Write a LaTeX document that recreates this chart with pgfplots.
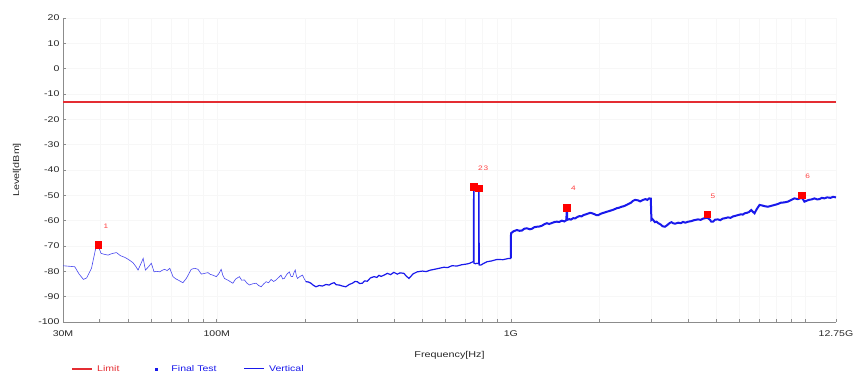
\documentclass[border=0pt]{standalone}
\usepackage{pgfplots}
\pgfplotsset{compat=1.18}
\usepackage{fontspec}
\setmainfont[FakeStretch=1.27]{Liberation Sans}
\definecolor{limitred}{RGB}{228,45,50}
\definecolor{tracebl}{RGB}{25,25,235}
\definecolor{axgray}{RGB}{140,140,140}
\begin{document}
\begin{tikzpicture}
\begin{axis}[
  at={(63pt,52pt)}, anchor=south west,
  scale only axis, width=773pt, height=304pt,
  xmode=log, xmin=30, xmax=12750,
  ymin=-100, ymax=20,
  axis x line*=bottom, axis y line*=left,
  axis line style={axgray, line width=0.9pt, -},
  tick style={axgray, line width=0.6pt},
  tick align=inside,
  major tick length=3pt, minor tick length=3pt,
  xtick={30,100,1000,12750},
  xticklabels={30M,100M,1G,12.75G},
  minor xtick={40,50,60,70,80,90,200,300,400,500,600,700,800,900,2000,3000,4000,5000,6000,7000,8000,9000,10000},
  ytick={-100,-90,-80,-70,-60,-50,-40,-30,-20,-10,0,10,20},
  yticklabels={-100,-90,-80,-70,-60,-50,-40,-30,-20,-10,0,10,20},
  ticklabel style={font=\fontsize{8.3}{9}\selectfont, text=black!85},
  xticklabel style={yshift=-5pt},
  ymajorgrids, xminorgrids, xmajorgrids,
  major grid style={black!3, line width=0.5pt},
  minor grid style={black!3, line width=0.5pt},
  xlabel={Frequency[Hz]}, ylabel={Level[dBm]},
  label style={font=\fontsize{8.5}{10}\selectfont, text=black!85},
  xlabel style={at={(axis description cs:0.5,-0.1086)}, anchor=center},
  ylabel style={at={(axis description cs:-0.0595,0.5)}, anchor=center},
  legend columns=3,
  legend style={draw=none, fill=none, at={(axis description cs:0.0078,-0.1546)}, anchor=west,
    font=\fontsize{8.3}{9}\selectfont,
    /tikz/every even column/.append style={column sep=25pt}},
]
\addlegendimage{legend image code/.code={\path[draw=none] (0pt,0pt) -- (23pt,0pt); \fill[limitred, draw=none] (0pt,-0.8pt) rectangle (20pt,0.8pt);}}
\addlegendentry[text=limitred]{Limit}
\addlegendimage{legend image code/.code={\path[draw=none] (0pt,0pt) -- (23pt,0pt); \fill[tracebl, draw=none] (8.5pt,-1.6pt) rectangle (11.5pt,1.4pt);}}
\addlegendentry[text=tracebl]{Final Test}
\addlegendimage{legend image code/.code={\path[draw=none] (0pt,0pt) -- (23pt,0pt); \draw[color=tracebl, line width=1pt] (0pt,0pt) -- (20pt,0pt);}}
\addlegendentry[text=tracebl]{Vertical}

% limit line (-13 dBm), drawn as a thin band
\addplot[fill=limitred, draw=none, forget plot] coordinates {(30,-12.6) (12750,-12.6) (12750,-13.4) (30,-13.4)} -- cycle;

% trace segment 30M - 200M
\addplot[tracebl!80, line width=0.6pt, forget plot] coordinates {
(30,-77.8) (31.5,-78.0) (32.9,-78.2) (34.0,-81.0) (35.2,-83.2) (36.1,-82.6) (37.5,-78.8)
(38.7,-71.3) (39.3,-69.2) (40.4,-72.9) (41.5,-73.3) (42.7,-73.6) (44.0,-73.0) (45.6,-72.6)
(47.0,-73.8) (48.7,-74.5) (50.2,-75.4) (51.9,-76.6) (53.0,-78.0) (54.0,-79.5) (55.2,-77.0)
(56.2,-74.9) (57.2,-79.5) (58.6,-78.2) (59.9,-76.8) (61.2,-80.2) (62.5,-80.0) (64.0,-80.2)
(65.2,-79.6) (66.5,-79.2) (67.8,-79.7) (69.2,-78.8) (71.0,-82.1) (72.4,-82.9) (73.8,-83.4)
(76.7,-84.5) (78.8,-82.8) (81.9,-79.2) (84.1,-78.8) (86.3,-79.2) (88.6,-81.1) (91.0,-80.8)
(93.3,-80.5) (95.0,-81.2) (97.0,-81.5) (99.6,-82.1) (101.5,-81.0) (103.5,-79.2) (104.8,-81.5)
(106.2,-82.8) (109.5,-83.6) (113.4,-84.7) (116.0,-83.0) (119.4,-82.1) (121.5,-83.5) (124.2,-83.4)
(126.5,-84.6) (129.2,-85.4) (132.5,-84.9) (136.1,-84.7) (138.8,-85.6) (141.5,-86.1) (144.3,-85.0)
(147.1,-84.1) (150.0,-84.5) (153.0,-83.2) (156.0,-84.0) (159.1,-83.4) (162.0,-82.5) (165.4,-81.5)
(167.5,-83.0) (169.7,-82.8) (173.0,-81.2) (176.5,-80.2) (178.8,-82.0) (181.1,-82.1) (183.0,-80.5)
(184.9,-79.5) (186.5,-81.8) (188.2,-82.8) (192.0,-82.0) (195.7,-81.5) (198.5,-83.0) (201.0,-84.1)
};
% trace segment 200M - 1G
\addplot[tracebl, line width=1.2pt, forget plot] coordinates {
(201.0,-84.1) (205,-84.2) (209.0,-84.7) (213,-85.5) (217.3,-86.1) (223,-85.6) (228.8,-85.8)
(235,-85.2) (241.1,-85.4) (246,-84.8) (250.7,-84.5) (255,-85.3) (260.7,-85.4) (267,-85.8)
(274.7,-86.1) (282,-85.2) (289.2,-84.7) (295,-84.0) (300.7,-84.1) (306,-84.8) (312.7,-84.7)
(318,-83.8) (325.2,-83.9) (333,-82.6) (342.7,-82.1) (350,-82.4) (356,-81.6) (362,-82.0)
(370.5,-81.5) (380,-80.8) (390,-81.3) (400,-80.4) (411.0,-81.1) (420,-80.6) (433.0,-80.8)
(440,-81.8) (450.3,-82.8) (465,-81.0) (480.3,-80.2) (500,-79.9) (515,-80.1) (533.5,-79.5)
(550,-79.2) (570,-78.8) (591.6,-78.4) (610,-78.5) (630,-77.8) (656.4,-77.9) (680,-77.4)
(709.6,-77.1) (725,-76.8) (743.8,-76.2) (746.3,-76.2) (747.0,-46.6) (748.8,-46.6) (749.5,-76.8)
(758,-77.0) (767,-76.8) (777.0,-77.0) (777.8,-47.2) (779.5,-47.2) (780.3,-77.5) (791,-77.5)
(810,-76.8) (829.5,-76.2) (860,-75.9) (896.8,-75.3) (940,-75.4) (982.7,-74.9) (999,-74.9)
};
% trace segment 1G - 12.75G
\addplot[tracebl, line width=2pt, forget plot] coordinates {
(999,-74.9) (1001,-65.0) (1020,-64.2) (1048,-63.7) (1070,-64.0) (1090,-63.9) (1110,-63.2)
(1133,-63.0) (1160,-63.4) (1180,-63.2) (1200,-62.6) (1226,-62.4) (1250,-62.3) (1275,-62.0)
(1300,-61.4) (1325,-61.0) (1350,-61.3) (1380,-60.9) (1410,-60.5) (1433,-60.4) (1460,-60.5)
(1490,-60.0) (1520,-60.3) (1545,-59.8) (1547,-55.0) (1551,-55.0) (1553,-59.7) (1580,-59.4)
(1600,-59.6) (1630,-59.0) (1654,-59.1) (1680,-58.6) (1710,-58.2) (1740,-58.3) (1765,-57.8)
(1800,-57.5) (1830,-57.2) (1860,-56.9) (1890,-57.1) (1920,-57.4) (1950,-57.8) (1984,-57.8)
(2020,-57.3) (2050,-57.0) (2080,-56.8) (2117,-56.5) (2160,-56.2) (2200,-55.9) (2240,-55.6)
(2288,-55.1) (2330,-54.9) (2380,-54.5) (2420,-54.3) (2474,-53.8) (2520,-53.3) (2560,-52.9)
(2600,-52.2) (2642,-51.8) (2680,-51.9) (2710,-52.0) (2750,-52.4) (2781,-52.1) (2830,-51.7)
(2870,-51.5) (2910,-51.8) (2954,-51.2) (2990,-51.3) (3005,-59.7) (3030,-59.4) (3060,-60.0)
(3090,-60.6) (3126,-60.4) (3170,-61.0) (3230,-61.5) (3280,-62.2) (3339,-62.4) (3380,-62.0)
(3420,-61.5) (3470,-60.9) (3516,-60.6) (3560,-61.0) (3620,-61.2) (3705,-60.8) (3780,-61.0)
(3850,-60.5) (3920,-60.8) (4006,-60.4) (4100,-60.2) (4200,-59.8) (4330,-59.5) (4420,-59.7)
(4500,-59.2) (4580,-59.0) (4656,-58.8) (4700,-59.2) (4750,-59.6) (4800,-60.4) (4868,-60.4)
(4950,-59.6) (5062,-59.5) (5150,-59.8) (5250,-59.2) (5360,-59.0) (5473,-58.7) (5580,-58.9)
(5700,-58.3) (5800,-58.1) (5917,-57.8) (6050,-57.5) (6150,-57.6) (6235,-57.1) (6350,-56.9)
(6450,-56.6) (6564,-55.8) (6650,-56.5) (6738,-57.1) (6850,-55.5) (7007,-53.8) (7150,-54.0)
(7300,-54.3) (7476,-54.5) (7650,-54.2) (7877,-53.8) (8050,-53.5) (8294,-52.9) (8500,-52.8)
(8740,-52.5) (8950,-51.9) (9211,-51.2) (9450,-51.5) (9752,-51.0) (9850,-51.6) (9957,-52.5)
(10100,-52.2) (10300,-51.8) (10550,-51.6) (10767,-51.2) (11000,-51.6) (11200,-51.5)
(11400,-51.0) (11641,-51.2) (11900,-50.8) (12200,-51.0) (12450,-50.6) (12750,-50.8)
};
% final test markers
\addplot[only marks, mark=square*, mark size=3.3pt, color=red, fill=red, forget plot] coordinates {
(39.5,-69.6) (748,-46.7) (779,-47.2) (1549,-54.9) (4656,-57.4) (9752,-49.9)
};
\node[font=\fontsize{6.5}{7}\selectfont, text=red!75] at (axis cs:42.0,-62.1) {1};
\node[font=\fontsize{6.5}{7}\selectfont, text=red!75] at (axis cs:805,-39.2) {2\,3};
\node[font=\fontsize{6.5}{7}\selectfont, text=red!75] at (axis cs:1632,-47.1) {4};
\node[font=\fontsize{6.5}{7}\selectfont, text=red!75] at (axis cs:4868,-50.3) {5};
\node[font=\fontsize{6.5}{7}\selectfont, text=red!75] at (axis cs:10218,-42.4) {6};
\end{axis}
\pgfresetboundingbox
\useasboundingbox (0,0) rectangle (856pt,374pt);
\end{tikzpicture}
\end{document}
